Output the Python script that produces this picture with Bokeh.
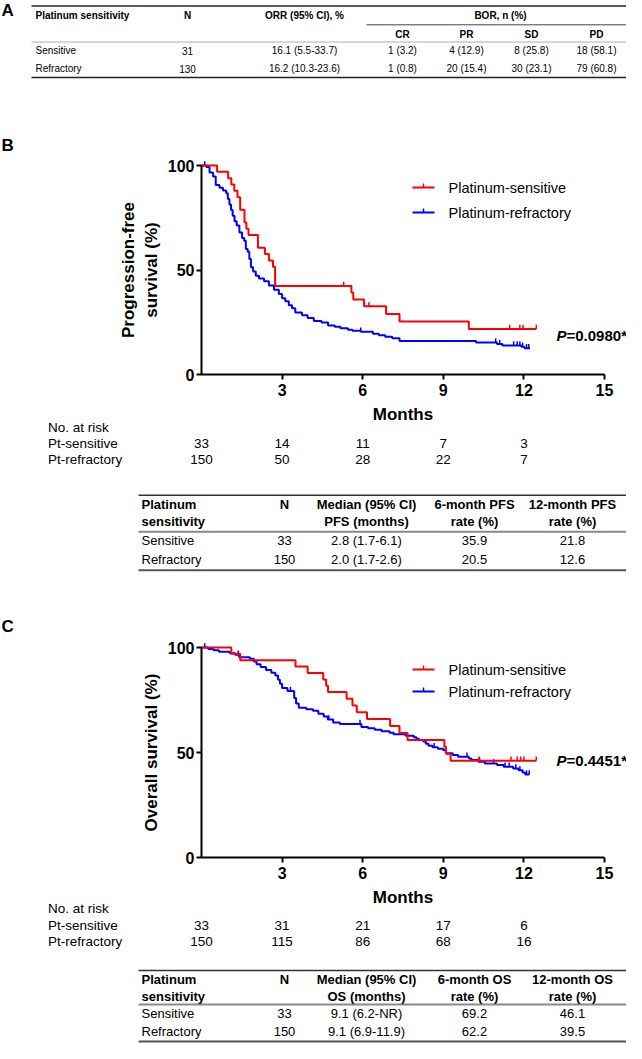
from bokeh.plotting import figure
from bokeh.models import Range1d, LinearAxis, FixedTicker
from bokeh.core.properties import value
from bokeh.embed import file_html
from bokeh.resources import INLINE

# ---------------- Panel A table ----------------
a_groups = ["Sensitive", "Refractory"]
a_n = [31, 130]
a_orr = ["16.1 (5.5-33.7)", "16.2 (10.3-23.6)"]
a_bor_cols = ["CR", "PR", "SD", "PD"]
a_cr = ["1 (3.2)", "1 (0.8)"]
a_pr = ["4 (12.9)", "20 (15.4)"]
a_sd = ["8 (25.8)", "30 (23.1)"]
a_pd = ["18 (58.1)", "79 (60.8)"]

# ---------------- PFS curves (months, %) ----------------
pfs_sens_t = [0, 0.58, 0.99, 1.11, 1.22, 1.34, 1.44, 1.60, 1.67, 1.75,
              2.10, 2.36, 2.51, 2.66, 2.74, 5.58, 5.65, 6.05, 6.87, 7.37,
              9.95, 12.46]
pfs_sens_s = [100, 97.0, 93.9, 90.9, 87.9, 84.8, 78.8, 72.7, 69.7, 66.7,
              60.6, 57.6, 54.5, 51.5, 42.4, 39.2, 35.9, 32.6, 29.0, 25.4,
              21.8, 21.8]
pfs_sens_cens_t = [5.29, 6.23, 11.47, 11.85, 11.97, 12.46]
pfs_sens_cens_s = [42.4, 32.6, 21.8, 21.8, 21.8, 21.8]

pfs_ref_t = [0, 0.18, 0.30, 0.43, 0.53, 0.67, 0.80, 0.92, 0.98, 1.04,
             1.10, 1.16, 1.23, 1.31, 1.41, 1.51, 1.59, 1.65, 1.72, 1.78,
             1.84, 1.92, 2.02, 2.14, 2.33, 2.51, 2.70, 2.88, 3.00, 3.12,
             3.25, 3.37, 3.49, 3.74, 3.95, 4.18, 4.47, 4.71, 4.96, 5.17,
             5.45, 5.62, 5.93, 6.38, 6.60, 6.84, 7.10, 7.37, 10.22, 11.00,
             11.20, 11.90, 12.02, 12.23]
pfs_ref_s = [100, 99.3, 96.7, 94.7, 90.7, 89.3, 88.0, 86.7, 84.0, 81.3,
             78.7, 76.0, 73.3, 71.3, 68.0, 65.3, 64.0, 60.0, 58.7, 55.3,
             51.3, 49.3, 47.3, 45.9, 44.6, 42.6, 40.5, 38.5, 36.5, 35.1,
             33.1, 31.7, 29.7, 28.3, 27.0, 25.6, 24.9, 23.5, 22.8, 22.1,
             21.4, 20.9, 20.5, 19.5, 18.8, 18.1, 17.4, 16.0, 15.3, 14.6,
             13.9, 13.3, 12.6, 12.6]
pfs_ref_cens_t = [0.12, 5.93, 10.95, 11.10, 11.62, 11.75, 11.85, 11.95, 12.10, 12.18]
pfs_ref_cens_s = [100, 20.5, 15.3, 14.6, 13.9, 13.9, 13.9, 13.3, 12.6, 12.6]

# ---------------- OS curves (months, %) ----------------
os_sens_t = [0, 1.11, 1.44, 3.50, 3.95, 4.53, 4.64, 4.71, 5.40, 5.62,
             5.78, 6.16, 7.02, 7.37, 7.67, 9.04, 9.10, 9.27, 12.46]
os_sens_s = [100, 97.0, 93.9, 90.9, 87.9, 84.8, 81.8, 78.8, 75.6, 72.4,
             69.2, 65.9, 62.6, 59.3, 56.0, 52.7, 49.4, 46.1, 46.1]
os_sens_cens_t = [10.33, 11.52, 11.75, 11.88, 12.00, 12.46]
os_sens_cens_s = [46.1, 46.1, 46.1, 46.1, 46.1, 46.1]

os_ref_t = [0, 0.25, 0.45, 0.65, 1.05, 1.25, 1.40, 1.80, 1.95, 2.05,
            2.20, 2.40, 2.60, 2.75, 2.85, 2.92, 3.00, 3.20, 3.45, 3.52,
            3.62, 3.90, 4.15, 4.35, 4.55, 4.70, 4.90, 5.15, 5.95, 6.20,
            6.45, 6.70, 7.00, 7.15, 7.60, 7.90, 8.00, 8.10, 8.25, 8.35,
            8.45, 8.60, 8.80, 9.00, 9.10, 9.35, 9.55, 9.95, 10.05, 10.30,
            10.55, 11.00, 11.25, 11.60, 11.80, 11.95, 12.05, 12.20]
os_ref_s = [100, 99.3, 98.7, 98.0, 97.3, 96.6, 95.3, 94.6, 93.3, 92.0,
            90.7, 89.3, 88.0, 86.7, 84.7, 82.7, 80.7, 79.3, 76.0, 73.3,
            71.3, 70.6, 69.9, 68.5, 67.1, 65.7, 64.3, 63.6, 62.2, 61.5,
            60.8, 60.1, 59.4, 58.7, 58.0, 57.3, 56.6, 55.9, 55.2, 54.2,
            53.2, 52.5, 51.8, 51.1, 49.6, 48.8, 48.0, 47.2, 46.4, 45.6,
            44.8, 44.0, 43.2, 42.4, 41.5, 40.5, 39.5, 39.5]
os_ref_cens_t = [0.12, 1.37, 3.31, 4.74, 5.90, 8.66, 9.88, 10.35, 10.87, 11.30,
                 11.45, 11.70, 11.85, 12.10, 12.20]
os_ref_cens_s = [100, 96.6, 79.3, 65.7, 63.6, 52.5, 48.0, 45.6, 44.8, 43.2,
                 43.2, 42.4, 41.5, 39.5, 39.5]

# ---------------- numbers at risk ----------------
risk_months = [0, 3, 6, 9, 12]
risk_rows = ["Pt-sensitive", "Pt-refractory"]
pfs_risk_sens = [33, 14, 11, 7, 3]
pfs_risk_ref = [150, 50, 28, 22, 7]
os_risk_sens = [33, 31, 21, 17, 6]
os_risk_ref = [150, 115, 86, 68, 16]

# ---------------- summary tables ----------------
tbl_groups = ["Sensitive", "Refractory"]
tbl_n = [33, 150]
pfs_median = ["2.8 (1.7-6.1)", "2.0 (1.7-2.6)"]
pfs_6m = [35.9, 20.5]
pfs_12m = [21.8, 12.6]
os_median = ["9.1 (6.2-NR)", "9.1 (6.9-11.9)"]
os_6m = [69.2, 62.2]
os_12m = [46.1, 39.5]

series_labels = ["Platinum-sensitive", "Platinum-refractory"]
month_ticks = [3, 6, 9, 12, 15]
surv_ticks = [0, 50, 100]
p_values = ["=0.0980*", "=0.4451*"]

# ---------------- layout / style ----------------
W, H = 626, 1043
FONT = "Liberation Sans"
RED, BLUE = "#ff0000", "#0000ff"
X0, X15 = 201.0, 604.0
PPM = (X15 - X0) / 15.0
PFS_Y100, PFS_Y0 = 165.0, 374.0
OS_Y100, OS_Y0 = 647.0, 857.0

p = figure(width=W, height=H, x_range=Range1d(0, W), y_range=Range1d(H, 0),
           x_axis_type=None, y_axis_type=None, output_backend="svg",
           toolbar_location=None, min_border=0, outline_line_color=None,
           background_fill_color="white", border_fill_color="white")


def yrange(y100, y0):
    k = (y0 - y100) / 100.0
    end = 100.0 + y100 / k
    return Range1d(end - H / k, end)


p.extra_x_ranges = {"km": Range1d(-X0 / PPM, (W - X0) / PPM)}
p.extra_y_ranges = {"pfs": yrange(PFS_Y100, PFS_Y0), "os": yrange(OS_Y100, OS_Y0)}


def txt(xs, ys, ss, size, style="normal", align="left", xr="default", color="#000000"):
    p.text(x=xs, y=ys, text=ss, text_font=value(FONT), text_font_size=value(f"{size}px"),
           text_font_style=value(style), text_align=value(align), text_baseline=value("middle"),
           text_color=color, x_range_name=xr)


def hline(x0, x1, y, width=1.0, color="#333333"):
    p.segment(x0=[x0], y0=[y], x1=[x1], y1=[y], line_color=color, line_width=width)


def style_axis(ax, vertical):
    ax.axis_line_width = 2
    ax.axis_line_color = "black"
    ax.major_tick_line_width = 2
    ax.major_tick_line_color = "black"
    ax.major_tick_out = 5
    ax.major_tick_in = 0
    ax.minor_tick_line_color = None
    ax.major_label_text_font = FONT
    ax.major_label_text_font_size = "16px"
    ax.major_label_text_font_style = "bold"
    ax.major_label_text_color = "black"
    ax.axis_label_text_font = FONT
    ax.axis_label_text_font_size = "17px"
    ax.axis_label_text_font_style = "bold"
    ax.axis_label_text_color = "black"
    if vertical:
        ax.major_label_standoff = 2
        ax.axis_label_standoff = 4
    else:
        ax.major_label_standoff = 4
        ax.axis_label_standoff = 6


def km_panel(yname, ylabel, sens_t, sens_s, sc_t, sc_s, ref_t, ref_s, rc_t, rc_s,
             leg_y, p_y, p_text):
    xa = LinearAxis(x_range_name="km", y_range_name=yname, fixed_location=0, bounds=(0, 15),
                    ticker=FixedTicker(ticks=month_ticks, minor_ticks=[]), axis_label="Months")
    ya = LinearAxis(x_range_name="km", y_range_name=yname, fixed_location=0, bounds=(0, 100),
                    ticker=FixedTicker(ticks=surv_ticks, minor_ticks=[]), axis_label=ylabel)
    style_axis(xa, False)
    style_axis(ya, True)
    p.add_layout(xa, "below")
    p.add_layout(ya, "left")
    for t, s, ct, cs, col in ((ref_t, ref_s, rc_t, rc_s, BLUE), (sens_t, sens_s, sc_t, sc_s, RED)):
        p.step(x=t, y=s, mode="after", line_color=col, line_width=2,
               x_range_name="km", y_range_name=yname)
        p.segment(x0=ct, y0=cs, x1=ct, y1=[c + 2.0 for c in cs], line_color=col, line_width=1.5,
                  x_range_name="km", y_range_name=yname)
    # legend
    for yy, col, lab in zip(leg_y, (RED, BLUE), series_labels):
        hline(412, 434, yy, 2, col)
        p.segment(x0=[423], y0=[yy], x1=[423], y1=[yy - 4], line_color=col, line_width=1.5)
        txt([448], [yy], [lab], 14.5)
    txt([556], [p_y], ["P"], 15, "bold italic")
    txt([566], [p_y], [p_text], 15, "bold")


def risk_table(y_head, y_rows, vals_s, vals_r):
    txt([47.6], [y_head], ["No. at risk"], 13.5)
    txt([47.6, 47.6], y_rows, risk_rows, 13.5)
    txt(risk_months, [y_rows[0]] * 5, [str(v) for v in vals_s], 13.5, align="center", xr="km")
    txt(risk_months, [y_rows[1]] * 5, [str(v) for v in vals_r], 13.5, align="center", xr="km")


def summary_table(ys, endpoint, med, r6, r12):
    top, h1, h2, sep, r1, r2, bot = ys
    L, R = 138, 626
    hline(L, R, top, 1.6, "#333333")
    hline(L, R, sep, 2.0, "#8a8a8a")
    hline(L, R, bot, 2.0, "#555555")
    cx = [284, 366, 474, 572]
    txt([141], [h1], ["Platinum"], 13, "bold")
    txt([141], [h2], ["sensitivity"], 13, "bold")
    txt(cx, [h1] * 4, ["N", "Median (95% CI)", f"6-month {endpoint}", f"12-month {endpoint}"],
        13, "bold", "center")
    txt(cx[1:], [h2] * 3, [f"{endpoint} (months)", "rate (%)", "rate (%)"], 13, "bold", "center")
    txt([141, 141], [r1, r2], tbl_groups, 13)
    for i, yy in enumerate((r1, r2)):
        txt(cx, [yy] * 4, [str(tbl_n[i]), med[i], f"{r6[i]:.1f}", f"{r12[i]:.1f}"], 13,
            align="center")


# ---------------- Panel A ----------------
txt([1], [10], ["A"], 17, "bold")
hline(31, 626, 5.5, 1.3, "#222222")
hline(366, 626, 24.3, 1.0, "#444444")
hline(31, 626, 41.5, 0.8, "#9a9a9a")
hline(31, 626, 77, 1.3, "#222222")
txt([35], [14.7], ["Platinum sensitivity"], 10, "bold")
txt([187, 304, 500], [14.7] * 3, ["N", "ORR (95% CI), %", "BOR, n (%)"], 10, "bold", "center")
a_cx = [402, 466, 531, 596]
txt(a_cx, [33.7] * 4, a_bor_cols, 10, "bold", "center")
for i, yy in enumerate((50.3, 68.0)):
    txt([35], [yy], [a_groups[i]], 10)
    txt([187, 304] + a_cx, [yy] * 6,
        [str(a_n[i]), a_orr[i], a_cr[i], a_pr[i], a_sd[i], a_pd[i]], 10, align="center")

# ---------------- Panel B ----------------
txt([1], [145], ["B"], 17, "bold")
km_panel("pfs", "Progression-free\nsurvival (%)", pfs_sens_t, pfs_sens_s, pfs_sens_cens_t,
         pfs_sens_cens_s, pfs_ref_t, pfs_ref_s, pfs_ref_cens_t, pfs_ref_cens_s,
         (187, 212), 335, p_values[0])
risk_table(427, [443, 459], pfs_risk_sens, pfs_risk_ref)
summary_table((494.7, 503.7, 521.0, 531.3, 540.3, 559.3, 569.7), "PFS", pfs_median, pfs_6m, pfs_12m)

# ---------------- Panel C ----------------
txt([1], [626], ["C"], 17, "bold")
km_panel("os", "Overall survival (%)", os_sens_t, os_sens_s, os_sens_cens_t, os_sens_cens_s,
         os_ref_t, os_ref_s, os_ref_cens_t, os_ref_cens_s, (669, 691), 760, p_values[1])
risk_table(908, [925, 941], os_risk_sens, os_risk_ref)
summary_table((970.0, 978.5, 995.5, 1004.0, 1013.0, 1031.0, 1041.0), "OS", os_median, os_6m, os_12m)

open("out.html", "w").write(file_html(p, INLINE))
